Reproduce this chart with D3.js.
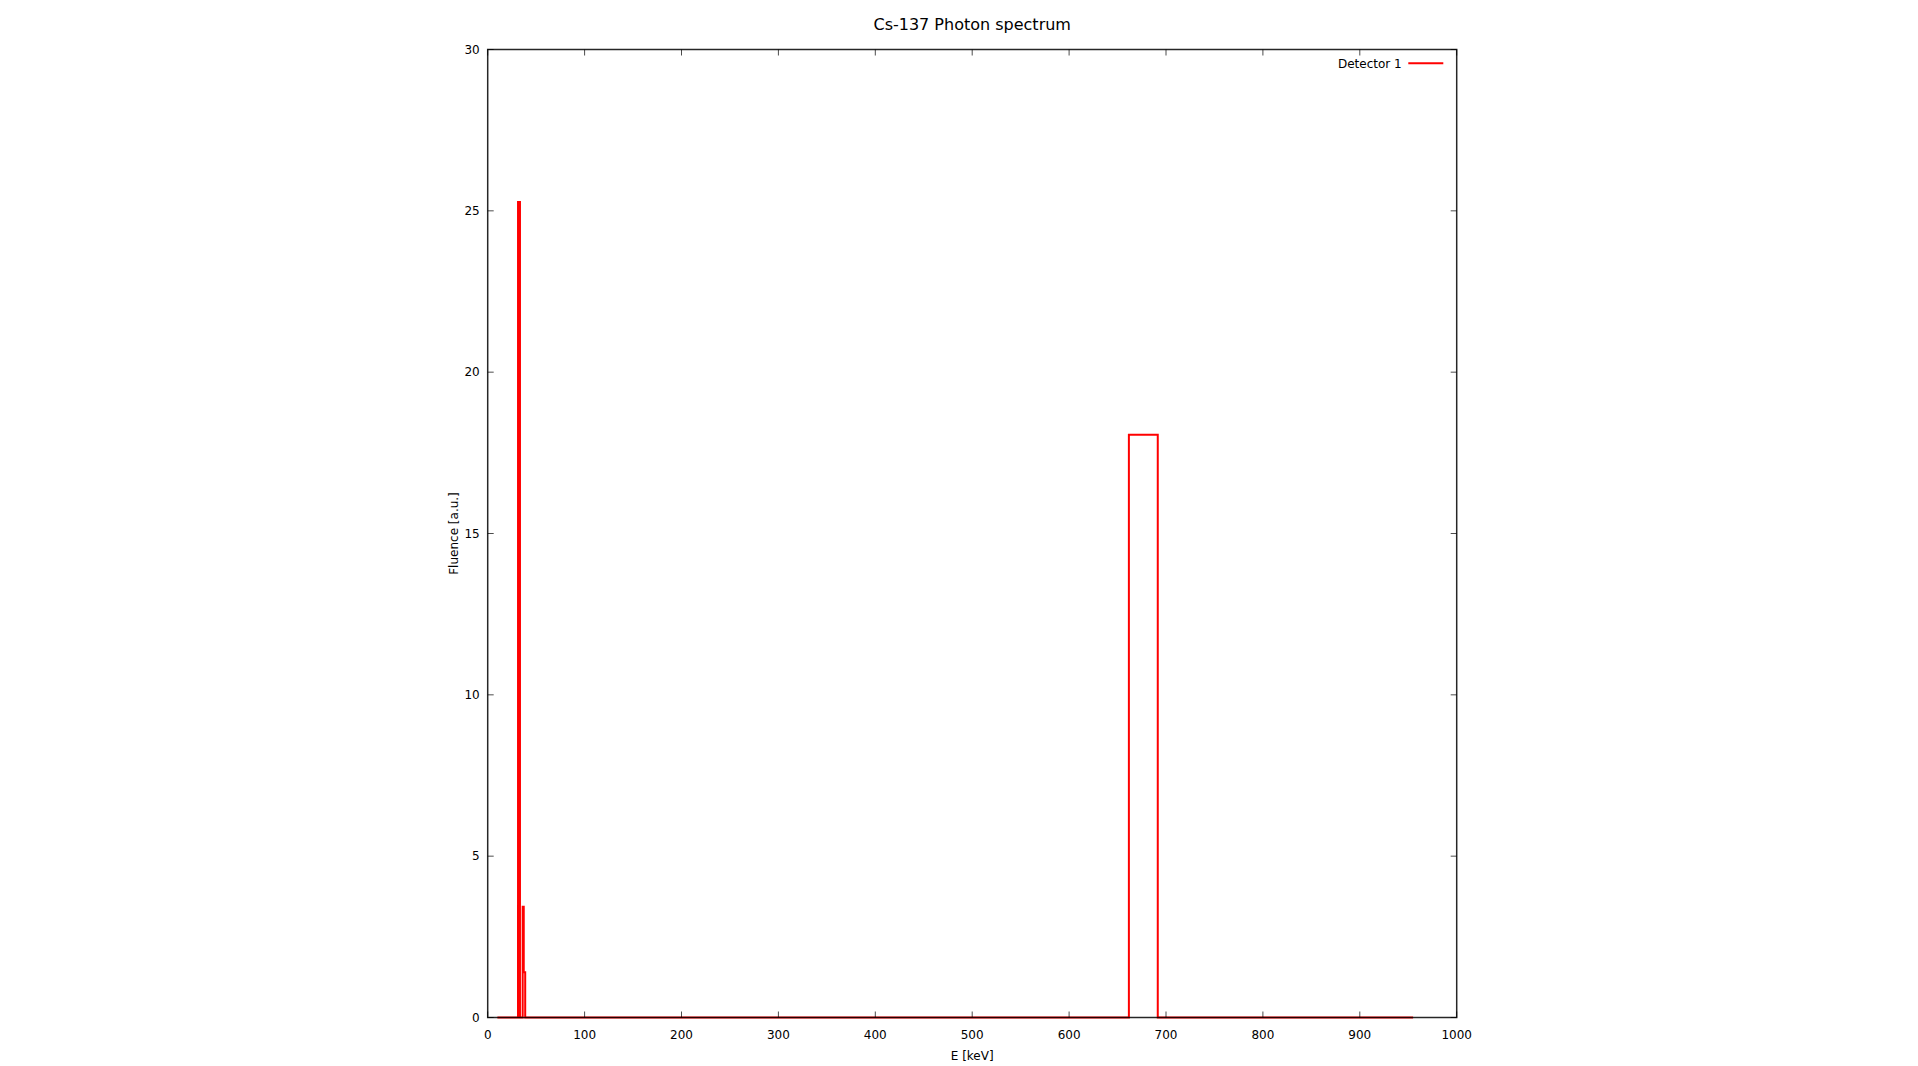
<!DOCTYPE html>
<html>
<head>
<meta charset="utf-8">
<script src="https://cdn.jsdelivr.net/npm/d3@7"></script>
<style>
  html, body { margin: 0; padding: 0; background: #fff; }
  svg { display: block; font-family: "DejaVu Sans", sans-serif; }
</style>
</head>
<body>
<svg id="chart"></svg>
<script>
// bin edges in keV, value of each bin sits between edge i and edge i+1
const binEdges = [10, 31.3, 33.3, 36.1, 37.2, 38.7, 661.7, 691.5, 955];
const fluence  = [0, 25.27, 0, 3.43, 1.4, 0, 18.06, 0];

const xTicks = [0, 100, 200, 300, 400, 500, 600, 700, 800, 900, 1000];
const yTicks = [0, 5, 10, 15, 20, 25, 30];

const title = "Cs-137 Photon spectrum";
const xLabel = "E [keV]";
const yLabel = "Fluence [a.u.]";
const seriesName = "Detector 1";

const width = 1918, height = 1066;
const plotLeft = 487.7, plotRight = 1456.7, plotTop = 49.5, plotBottom = 1017.5;

const svg = d3.select("#chart")
    .attr("width", width)
    .attr("height", height);

const x = d3.scaleLinear().domain([0, 1000]).range([plotLeft, plotRight]);
const y = d3.scaleLinear().domain([0, 30]).range([plotBottom, plotTop]);

// step line: one point per bin start, plus the closing edge
const points = fluence.map((v, i) => [binEdges[i], v]);
points.push([binEdges[binEdges.length - 1], fluence[fluence.length - 1]]);

const line = d3.line()
    .x(d => x(d[0]))
    .y(d => y(d[1]))
    .curve(d3.curveStepAfter);

svg.append("path")
    .datum(points)
    .attr("fill", "none")
    .attr("stroke", "#ff0000")
    .attr("stroke-width", 2)
    .attr("d", line);

// ticks, drawn inward on all four sides
const tickLen = 6;
const ticks = svg.append("g")
    .attr("stroke", "#000")
    .attr("stroke-opacity", 0.7)
    .attr("stroke-width", 1);

xTicks.forEach(t => {
    ticks.append("line")
        .attr("x1", x(t)).attr("x2", x(t))
        .attr("y1", plotBottom).attr("y2", plotBottom - tickLen);
    ticks.append("line")
        .attr("x1", x(t)).attr("x2", x(t))
        .attr("y1", plotTop).attr("y2", plotTop + tickLen);
});
yTicks.forEach(t => {
    ticks.append("line")
        .attr("x1", plotLeft).attr("x2", plotLeft + tickLen)
        .attr("y1", y(t)).attr("y2", y(t));
    ticks.append("line")
        .attr("x1", plotRight).attr("x2", plotRight - tickLen)
        .attr("y1", y(t)).attr("y2", y(t));
});

// frame on top of the data, like gnuplot's "border front"
svg.append("rect")
    .attr("x", plotLeft).attr("y", plotTop)
    .attr("width", plotRight - plotLeft).attr("height", plotBottom - plotTop)
    .attr("fill", "none")
    .attr("stroke", "#000")
    .attr("stroke-opacity", 0.85)
    .attr("stroke-width", 1.5);

// tick labels
svg.append("g")
    .attr("font-size", 12)
    .attr("text-anchor", "middle")
    .selectAll("text")
    .data(xTicks)
    .join("text")
    .attr("x", d => x(d))
    .attr("y", plotBottom + 21)
    .text(d => d);

svg.append("g")
    .attr("font-size", 12)
    .attr("text-anchor", "end")
    .selectAll("text")
    .data(yTicks)
    .join("text")
    .attr("x", plotLeft - 8)
    .attr("y", d => y(d))
    .attr("dy", "0.35em")
    .text(d => d);

// title and axis labels
svg.append("text")
    .attr("x", (plotLeft + plotRight) / 2)
    .attr("y", 29.5)
    .attr("text-anchor", "middle")
    .attr("font-size", 16)
    .text(title);

svg.append("text")
    .attr("x", (plotLeft + plotRight) / 2)
    .attr("y", 1060)
    .attr("text-anchor", "middle")
    .attr("font-size", 12)
    .text(xLabel);

svg.append("text")
    .attr("transform", `translate(458, ${(plotTop + plotBottom) / 2}) rotate(-90)`)
    .attr("text-anchor", "middle")
    .attr("font-size", 12)
    .text(yLabel);

// legend
svg.append("text")
    .attr("x", 1401.7)
    .attr("y", 63.3)
    .attr("dy", "0.35em")
    .attr("text-anchor", "end")
    .attr("font-size", 12)
    .text(seriesName);

svg.append("line")
    .attr("x1", 1408.3).attr("x2", 1443.3)
    .attr("y1", 63.3).attr("y2", 63.3)
    .attr("stroke", "#ff0000")
    .attr("stroke-width", 2);
</script>
</body>
</html>
